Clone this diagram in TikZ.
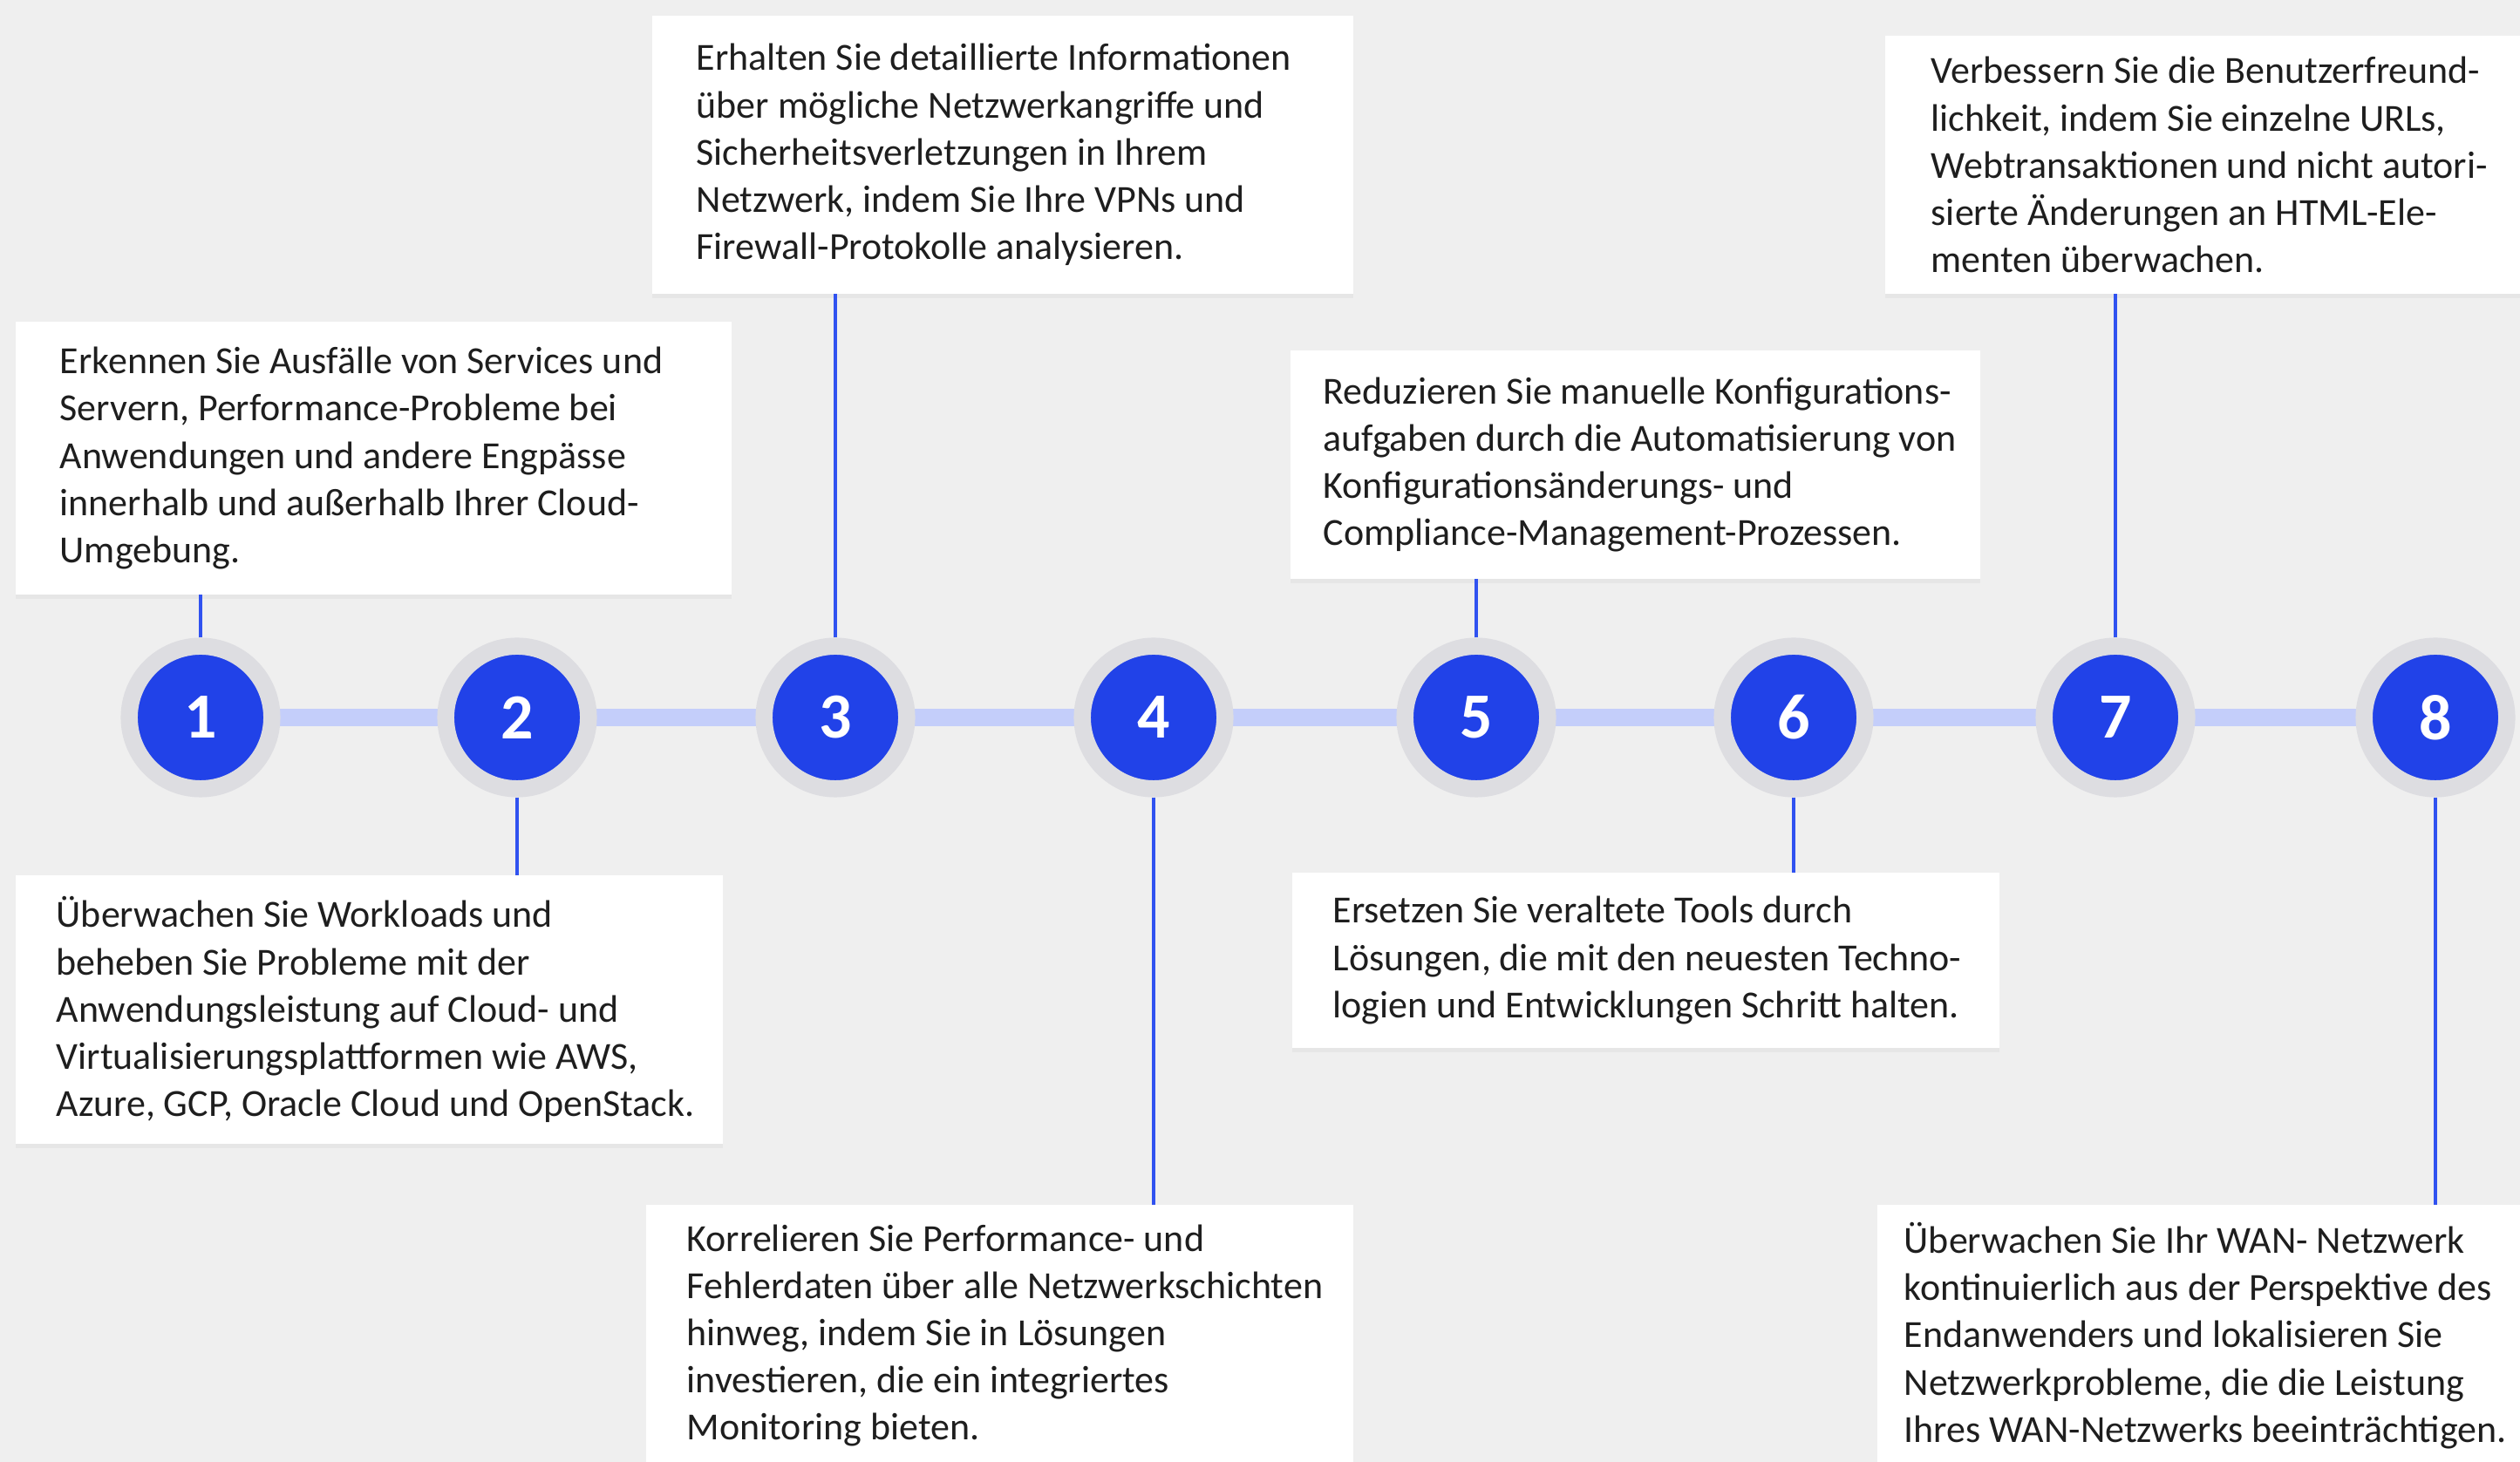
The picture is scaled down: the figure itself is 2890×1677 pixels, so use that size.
\documentclass[tikz,border=0pt]{standalone}
\usepackage{fontspec}
\setmainfont{Carlito}
\usepackage{xcolor}
\definecolor{sea_bg}{RGB}{239, 239, 239}
\definecolor{sea_blue}{RGB}{33, 66, 232}
\definecolor{sea_line}{RGB}{48, 82, 240}
\definecolor{sea_bar}{RGB}{196, 206, 250}
\definecolor{sea_ring}{RGB}{221, 221, 225}
\definecolor{sea_text}{RGB}{30, 30, 30}
\usetikzlibrary{positioning, shadows}

\begin{document}
\begin{tikzpicture}[x=0.01cm, y=-0.01cm,
    infobox/.style={rectangle, fill=white, anchor=north west, inner sep=0pt, outer sep=0pt,
      drop shadow={shadow xshift=0pt, shadow yshift=-1.5pt, opacity=0.08}},
    infotext/.style={anchor=west, inner sep=0pt, align=left, text=sea_text,
      font=\fontsize{12.5}{15.4}\selectfont},
    stepdot/.style={circle, fill=sea_blue, draw=sea_ring, line width=0.195cm,
      minimum size=1.635cm, inner sep=0pt, text=white,
      font=\fontsize{21}{21}\selectfont\bfseries,
      drop shadow={shadow xshift=0pt, shadow yshift=-1.2pt, opacity=0.18}},
    stemline/.style={draw=sea_line, line width=1.1pt}]
  \clip (0,0) rectangle (2890,1677);
  \fill[sea_bg] (0,0) rectangle (2890,1677);

  % Zeitleiste
  \foreach \i/\x in {1/230, 2/593, 3/958, 4/1323, 5/1693, 6/2057, 7/2426, 8/2793} {
    \coordinate (c\i) at (\x, 823);
  }
  \draw[sea_bar, line width=0.2cm] (c1) -- (c8);
  \foreach \i in {1,...,8} {
    \node[stepdot] (s\i) at (c\i) {\i};
  }

  % Kästen oben
  \node[infobox, minimum width=8.21cm, minimum height=3.13cm] (b1) at (18, 369) {};
  \node[infotext] (t1) at ([xshift=0.5cm]b1.west)
    {Erkennen Sie Ausfälle von Services und\\Servern, Performance-Probleme bei\\Anwendungen und andere Engpässe\\innerhalb und außerhalb Ihrer Cloud-\\Umgebung.};
  \node[infobox, minimum width=8.04cm, minimum height=3.19cm] (b3) at (748, 18) {};
  \node[infotext] (t3) at ([xshift=0.5cm]b3.west)
    {Erhalten Sie detaillierte Informationen\\über mögliche Netzwerkangriffe und\\Sicherheitsverletzungen in Ihrem\\Netzwerk, indem Sie Ihre VPNs und\\Firewall-Protokolle analysieren.};
  \node[infobox, minimum width=7.91cm, minimum height=2.62cm] (b5) at (1480, 402) {};
  \node[infotext] (t5) at ([xshift=0.37cm]b5.west)
    {Reduzieren Sie manuelle Konfigurations-\\aufgaben durch die Automatisierung von\\Konfigurationsänderungs- und\\Compliance-Management-Prozessen.};
  \node[infobox, minimum width=7.6cm, minimum height=2.96cm] (b7) at (2162, 41) {};
  \node[infotext] (t7) at ([xshift=0.52cm]b7.west)
    {Verbessern Sie die Benutzerfreund-\\lichkeit, indem Sie einzelne URLs,\\Webtransaktionen und nicht autori-\\sierte Änderungen an HTML-Ele-\\menten überwachen.};

  % Kästen unten
  \node[infobox, minimum width=8.11cm, minimum height=3.08cm] (b2) at (18, 1004) {};
  \node[infotext] (t2) at ([xshift=0.46cm]b2.west)
    {Überwachen Sie Workloads und\\beheben Sie Probleme mit der\\Anwendungsleistung auf Cloud- und\\Virtualisierungsplattformen wie AWS,\\Azure, GCP, Oracle Cloud und OpenStack.};
  \node[infobox, minimum width=8.11cm, minimum height=3.0cm] (b4) at (741, 1382) {};
  \node[infotext] (t4) at ([xshift=0.46cm]b4.west)
    {Korrelieren Sie Performance- und\\Fehlerdaten über alle Netzwerkschichten\\hinweg, indem Sie in Lösungen\\investieren, die ein integriertes\\Monitoring bieten.};
  \node[infobox, minimum width=8.11cm, minimum height=2.01cm] (b6) at (1482, 1001) {};
  \node[infotext] (t6) at ([xshift=0.46cm]b6.west)
    {Ersetzen Sie veraltete Tools durch\\Lösungen, die mit den neuesten Techno-\\logien und Entwicklungen Schritt halten.};
  \node[infobox, minimum width=7.6cm, minimum height=3.0cm] (b8) at (2153, 1382) {};
  \node[infotext] (t8) at ([xshift=0.3cm]b8.west)
    {Überwachen Sie Ihr WAN- Netzwerk\\kontinuierlich aus der Perspektive des\\Endanwenders und lokalisieren Sie\\Netzwerkprobleme, die die Leistung\\Ihres WAN-Netzwerks beeinträchtigen.};

  % Verbindungen
  \foreach \i in {1,3,5,7} {
    \draw[stemline] (s\i.north) -- (s\i.north |- b\i.south);
  }
  \foreach \i in {2,4,6,8} {
    \draw[stemline] (s\i.south) -- (s\i.south |- b\i.north);
  }
\end{tikzpicture}
\end{document}
